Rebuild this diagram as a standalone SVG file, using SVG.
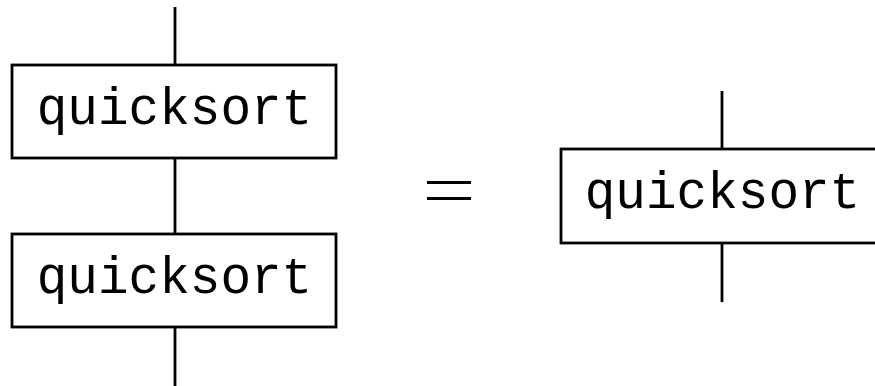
<svg xmlns="http://www.w3.org/2000/svg" width="875" height="386" viewBox="0 0 875 386">
<style>
.box{fill:#fff;stroke:#000;stroke-width:2.8}
.wire{stroke:#000;stroke-width:2.8;fill:none}
.lbl{font-family:"Liberation Mono","DejaVu Sans Mono",monospace;font-size:51px;fill:#000;text-anchor:middle}
</style>
<rect width="875" height="386" fill="#fff"/>
<g id="connectors">
<line class="wire" x1="175" y1="7" x2="175" y2="65"/>
<line class="wire" x1="175" y1="158" x2="175" y2="234"/>
<line class="wire" x1="175" y1="327" x2="175" y2="386"/>
<line class="wire" x1="722" y1="91" x2="722" y2="149"/>
<line class="wire" x1="722" y1="243" x2="722" y2="302"/>
</g>
<g id="q1">
<rect class="box" x="12" y="65" width="324" height="93"/>
<text class="lbl" x="174.5" y="124">quicksort</text>
</g>
<g id="q2">
<rect class="box" x="12" y="234" width="324" height="93"/>
<text class="lbl" x="174.5" y="293">quicksort</text>
</g>
<g id="eq">
<line class="wire" x1="427" y1="182.5" x2="471" y2="182.5"/>
<line class="wire" x1="427" y1="198.5" x2="471" y2="198.5"/>
</g>
<g id="q3">
<rect class="box" x="561" y="149" width="322" height="94"/>
<text class="lbl" x="722.5" y="208">quicksort</text>
</g>
</svg>
